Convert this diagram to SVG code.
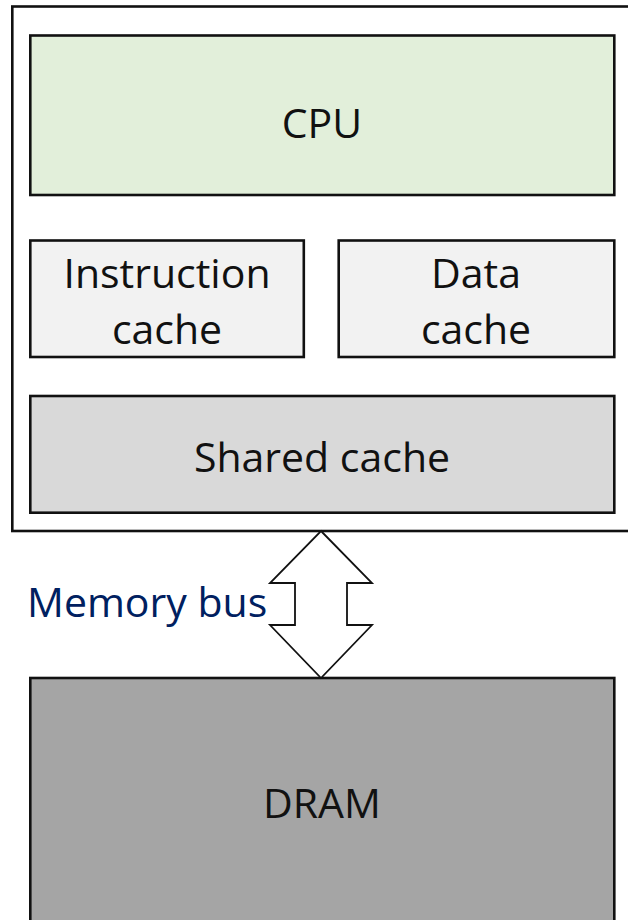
<svg xmlns="http://www.w3.org/2000/svg" width="628" height="920" viewBox="0 0 628 920">
  <style>
    .box { stroke: #111; stroke-width: 2.6; }
    .lbl { font-family: "Open Sans", "Noto Sans", sans-serif; font-size: 41px; fill: #111; text-anchor: middle; }
    .bus { font-family: "Open Sans", "Noto Sans", sans-serif; font-size: 41px; fill: #002060; }
  </style>
  <rect width="628" height="920" fill="#ffffff"/>

  <!-- processor package (right side runs past the canvas edge) -->
  <g id="package">
    <rect class="box" x="12.3" y="6.5" width="640" height="524.5" fill="#ffffff"/>
  </g>

  <g id="cpu">
    <rect class="box" x="30.3" y="35.5" width="584" height="159.5" fill="#e2efda"/>
    <text class="lbl" x="322" y="138">CPU</text>
  </g>

  <g id="icache">
    <rect class="box" x="30.3" y="240.5" width="273.5" height="116.5" fill="#f2f2f2"/>
    <text class="lbl" x="167" y="288">Instruction</text>
    <text class="lbl" x="167" y="344">cache</text>
  </g>

  <g id="dcache">
    <rect class="box" x="338.7" y="240.5" width="275.6" height="116.5" fill="#f2f2f2"/>
    <text class="lbl" x="476" y="288">Data</text>
    <text class="lbl" x="476" y="344">cache</text>
  </g>

  <g id="shared">
    <rect class="box" x="30.3" y="396" width="584" height="116.7" fill="#d9d9d9"/>
    <text class="lbl" x="322" y="472">Shared cache</text>
  </g>

  <g id="dram">
    <rect class="box" x="30.3" y="678" width="584" height="270" fill="#a5a5a5"/>
    <text class="lbl" x="322" y="818">DRAM</text>
  </g>

  <!-- bidirectional bus arrow between package and DRAM -->
  <g id="connectors">
    <polygon points="321,531 372,583 347,583 347,625 372,625 321,678 270,625 295,625 295,583 270,583"
             fill="#ffffff" stroke="#111" stroke-width="1.8" stroke-linejoin="miter"/>
    <text class="bus" x="27" y="617">Memory bus</text>
  </g>
</svg>
